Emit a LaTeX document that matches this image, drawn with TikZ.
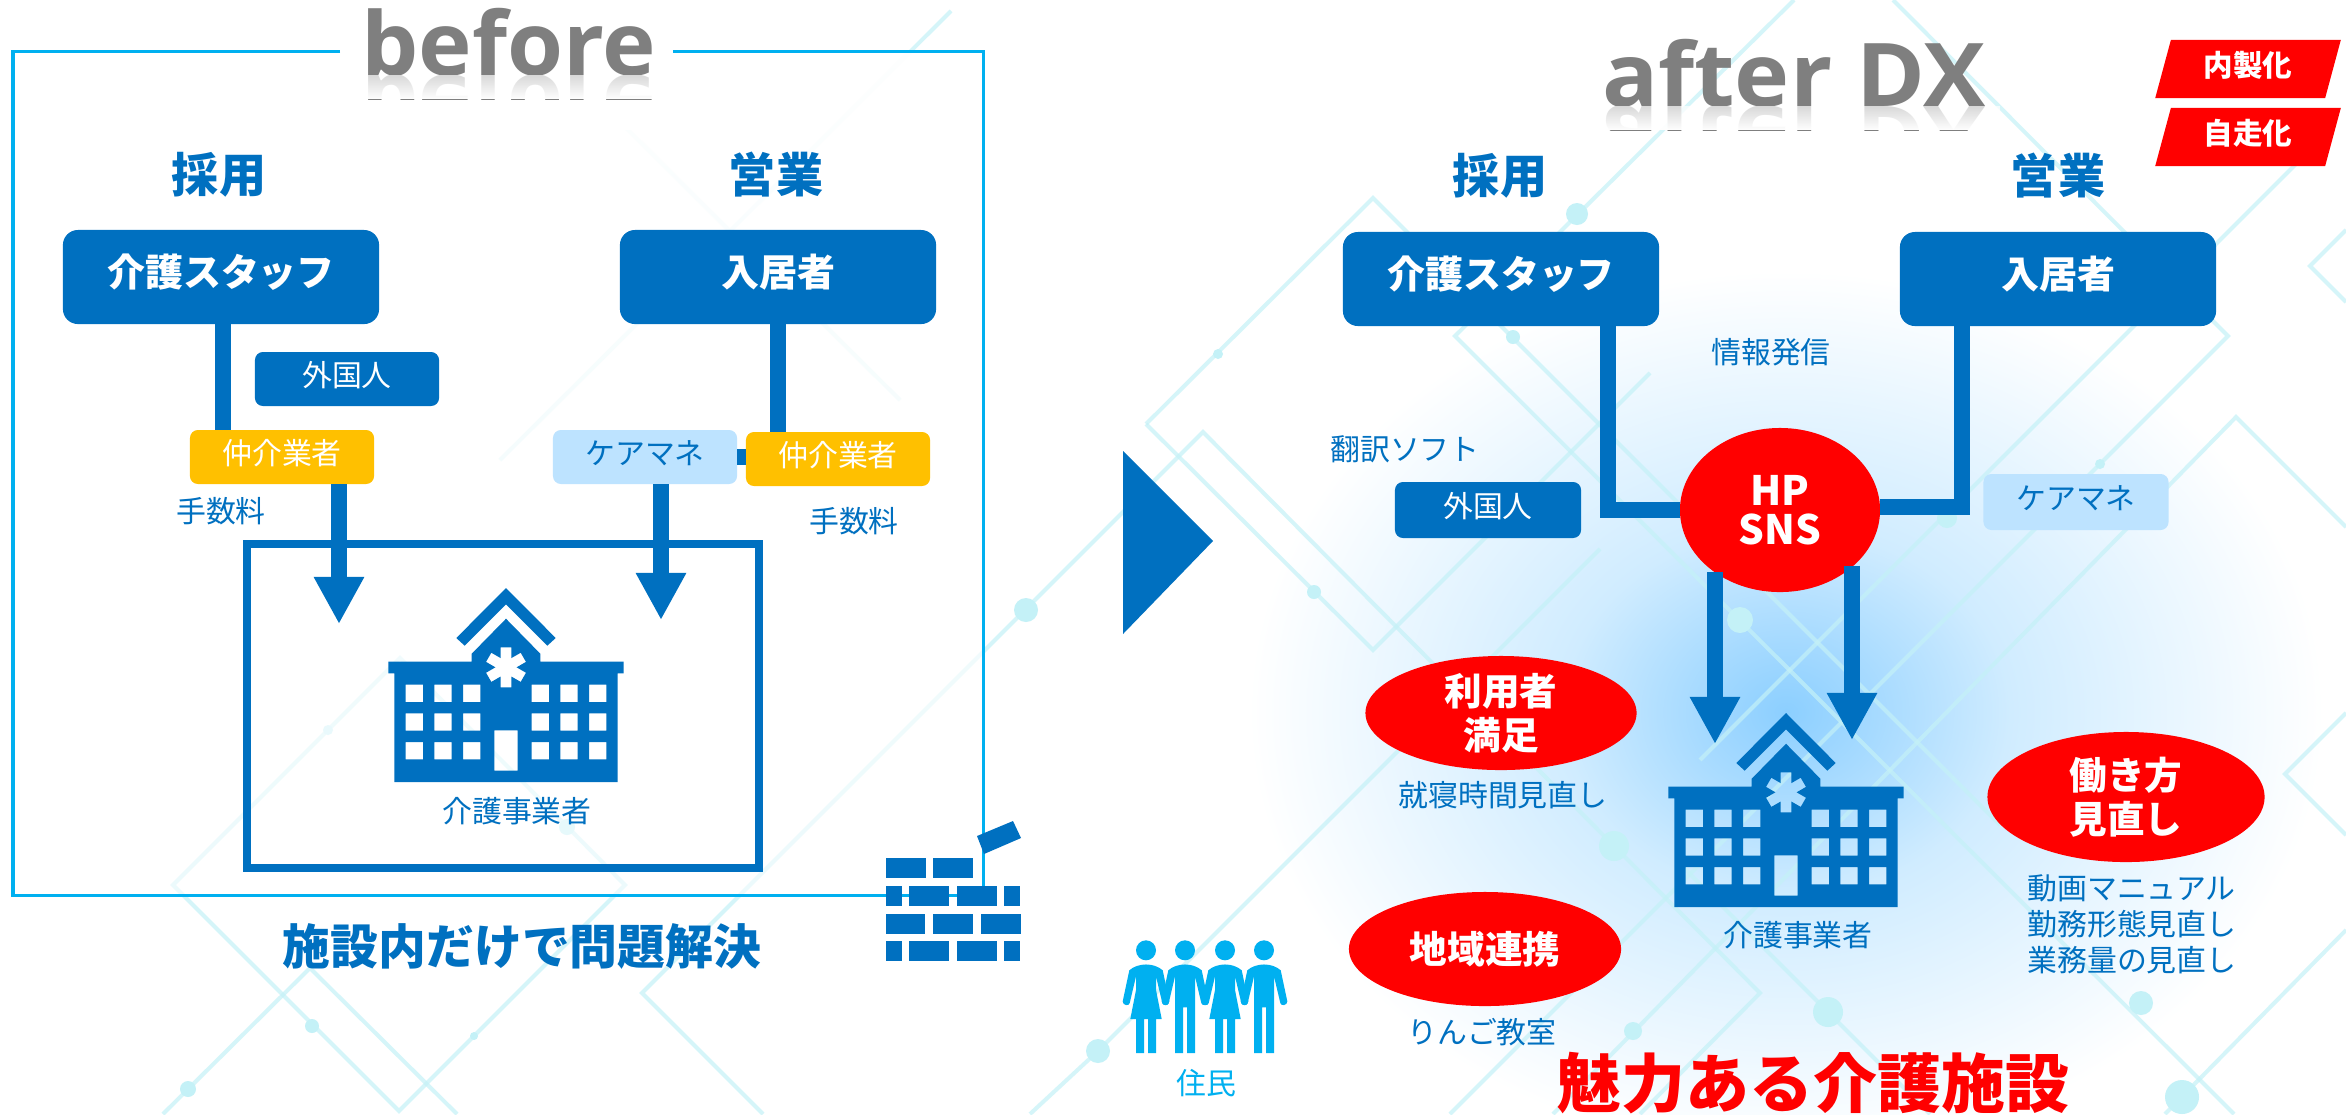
\documentclass[tikz,border=0pt]{standalone}
\usepackage{fontspec}
\usetikzlibrary{arrows.meta,shapes.geometric,fadings}
\newfontfamily\jp{Noto Sans CJK JP}
\setmainfont{Open Sans}

\definecolor{dxblue}{HTML}{0070C0}
\definecolor{skyline}{HTML}{00B0F0}
\definecolor{paleblue}{HTML}{BDE3FF}
\definecolor{amberbox}{HTML}{FFC000}
\definecolor{titlegray}{HTML}{7F7F7F}
\definecolor{netline}{HTML}{C4F1F7}
\definecolor{glowa}{HTML}{8CCFFF}
\definecolor{glowb}{HTML}{A6DAFF}
\definecolor{glowc}{HTML}{D0ECFF}

\pgfdeclareradialshading{glowshade}{\pgfpoint{0bp}{0bp}}{color(0bp)=(glowa); color(4bp)=(glowb); color(10bp)=(glowc); color(24bp)=(white); color(50bp)=(white)}
\tikzfading[name=veilfade, top color=transparent!4, bottom color=transparent!45]
\tikzfading[name=mirrorfade, top color=transparent!30, bottom color=transparent!0]

\tikzset{
    hospital/.pic={
        \fill[dxblue] (0,-194) -- (-49.7,-144) -- (-41.3,-136.3) -- (0,-177.7) -- (41.3,-136.3) -- (49.7,-144) -- cycle;
        \fill[dxblue, even odd rule] (0,-163.3) -- (-34.3,-128.3) -- (-34.3,-120.3) -- (-117.7,-120.3) -- (-117.7,-108.7)
            -- (-111.7,-108.7) -- (-111.7,0) -- (111.7,0) -- (111.7,-108.7) -- (117.7,-108.7) -- (117.7,-120.3)
            -- (34.3,-120.3) -- (34.3,-128.3) -- cycle
            ([shift={(0,-114.7)}]60:10.6)
            foreach \a in {90,150,...,390} {
                -- ([shift={(0,-114.7)}]\a-14.8:20.7) -- ([shift={(0,-114.7)}]\a+14.8:20.7) -- ([shift={(0,-114.7)}]\a+30:10.6)
            } -- cycle
            (-11.7,-51.7) rectangle (11.7,-11.3)
            foreach \wx in {-100.3,-71.7,-43,25.7,54.3,83} {
                foreach \wy in {-97.3,-68.7,-40} {
                    (\wx,\wy) rectangle (\wx+17.3,\wy+17.3)
                }
            };
    },
    woman/.pic={
        \fill[skyline] (0,-102.7) circle (10);
        \fill[skyline] (-16.7,-82.7) .. controls (-8,-90.5) and (8,-90.5) .. (16.7,-82.7) -- (23.3,-51.7)
            .. controls (23.5,-47.5) and (17,-46.5) .. (16.3,-50) -- (10,-76.7) -- (10,-63) -- (15.7,-34) -- (10,-34)
            -- (10,0) -- (2,0) -- (2,-34) -- (-2,-34) -- (-2,0) -- (-10,0) -- (-10,-34) -- (-15.7,-34) -- (-10,-63)
            -- (-10,-76.7) -- (-16.3,-50) .. controls (-17,-46.5) and (-23.5,-47.5) .. (-23.3,-51.7) -- cycle;
    },
    man/.pic={
        \fill[skyline] (0,-102.7) circle (10);
        \fill[skyline] (-16.7,-82.7) .. controls (-8,-90.5) and (8,-90.5) .. (16.7,-82.7) -- (23.3,-51.7)
            .. controls (23.5,-47.5) and (17,-46.5) .. (16.3,-50) -- (10,-76.7)
            -- (10,0) -- (2,0) -- (2,-45.7) -- (-2,-45.7) -- (-2,0) -- (-10,0)
            -- (-10,-76.7) -- (-16.3,-50) .. controls (-17,-46.5) and (-23.5,-47.5) .. (-23.3,-51.7) -- cycle;
    }
}

\begin{document}
\begin{tikzpicture}[
    x=0.01cm, y=-0.01cm,
    bigbox/.style={fill=dxblue, text=white, rounded corners=0.15cm, inner sep=0pt, outer sep=0pt, minimum width=3.16cm, minimum height=0.94cm, text depth=3.9pt, font=\jp\bfseries\fontsize{10.8pt}{13pt}\selectfont},
    smallbox/.style={rounded corners=0.08cm, inner sep=0pt, outer sep=0pt, minimum width=1.84cm, minimum height=0.54cm, text depth=2.7pt, font=\jp\fontsize{8.5pt}{10pt}\selectfont},
    foreignbox/.style={smallbox, fill=dxblue, text=white},
    brokerbox/.style={smallbox, fill=amberbox, text=white},
    carebox/.style={smallbox, fill=paleblue, text=dxblue},
    headtxt/.style={text=dxblue, inner sep=0pt, font=\jp\bfseries\fontsize{13.4pt}{16pt}\selectfont},
    smalltxt/.style={text=dxblue, inner sep=0pt, align=left, font=\jp\fontsize{8.5pt}{10.2pt}\selectfont},
    titletxt/.style={text=titlegray, inner sep=0pt, font=\bfseries\fontsize{25pt}{30pt}\selectfont},
    redoval/.style={ellipse, fill=red, text=white, inner sep=0pt, outer sep=0pt, align=center, font=\jp\bfseries\fontsize{10.7pt}{12.8pt}\selectfont},
    redflag/.style={trapezium, trapezium left angle=75.5, trapezium right angle=104.5, trapezium stretches=true, fill=red, text=white, inner sep=0pt, outer sep=0pt, minimum width=1.86cm, minimum height=0.58cm, text depth=2.7pt, font=\jp\bfseries\fontsize{8.4pt}{10pt}\selectfont},
    bar/.style={dxblue, line width=0.16cm},
    shaft/.style={bar, -{Triangle[length=0.47cm, width=0.47cm]}},
    netpath/.style={netline, line width=0.04cm, opacity=0.7}
]
% Page size
\useasboundingbox (0,0) rectangle (2346,1114);
\fill[white] (0,0) rectangle (2346,1114);

% Glow behind the facility
\shade[shading=glowshade] (1786,712) ellipse (560 and 460);

% Network pattern
\draw[netpath] (1146,424) -- (1373,198) -- (2000,825);
\draw[netpath] (1146,424) -- (1373,650) -- (1650,373);
\draw[netpath] (1794,0) -- (1455,336) -- (2234,1114);
\draw[netpath] (1893,0) -- (2228,336) -- (1450,1114);
\draw[netpath] (763,1114) -- (642,993) -- (1203,432) -- (1760,993) -- (1640,1114);
\draw[netpath] (2346,527) -- (2236,417) -- (1553,1114);
\draw[netpath] (2346,230) -- (2310,266) -- (2346,302);
\draw[netpath] (2300,160) -- (1700,760);
\draw[netpath] (2346,713) -- (2285,774) -- (2346,835);
\draw[netpath] (1680,864) -- (1930,1114);
\draw[netpath] (2346,930) -- (2165,1114);
\draw[netpath] (1030,1114) -- (1098,1051) -- (1600,549);
\draw[netpath] (173,885) -- (400,658) -- (625,885) -- (399,1111) -- cycle;
\draw[netpath] (163,1114) -- (310,968) -- (457,1114);
\draw[netpath] (951,11) -- (500,460);
\draw[netpath] (616,118) -- (900,400);
\foreach \nx/\ny/\nr in {1026/610/12,1314/592/7,1577/214/11,1513/337/7,1218/354/5,2100/464/5,1614/846/15,1740/620/13,1828/1012/15,1633/1031/9,2141/1003/12,2182/1097/17,1098/1051/12,328/730/5,567/827/8,312/1026/7,474/1036/4,188/1089/8,1947/518/10}
    \fill[netline] (\nx,\ny) circle (\nr);

% Before frame
\fill[white, path fading=veilfade] (13,51) rectangle (983,895);
\fill[white] (340,0) rectangle (673,130);
\draw[skyline, line width=0.03cm] (340,51) -- (13,51) -- (13,895) -- (983,895) -- (983,51) -- (673,51);

% Titles
\node[titletxt, anchor=base, xscale=1.03, transform shape] (before) at (509,75) {before};
\begin{scope}
\clip (350,75) rectangle (670,99);
\node[titletxt, anchor=base, xscale=1.03, yscale=-1, transform shape] (beforem) at (509,75) {before};
\end{scope}
\fill[white, path fading=mirrorfade] (350,75) rectangle (670,99);
\node[titletxt, anchor=base, xscale=1.06, transform shape] (after) at (1794,106) {after DX};
\begin{scope}
\clip (1590,106) rectangle (2000,130);
\node[titletxt, anchor=base, xscale=1.06, yscale=-1, transform shape] (afterm) at (1794,106) {after DX};
\end{scope}
\fill[white, path fading=mirrorfade] (1590,106) rectangle (2000,130);

% Before: boxes
\node[headtxt] (hireb) at (219,175) {採用};
\node[headtxt] (saleb) at (776,175) {営業};
\node[bigbox] (staffb) at (221,277) {介護スタッフ};
\node[bigbox] (residentb) at (778,277) {入居者};
\node[foreignbox] (foreignb) at (347,379) {外国人};
\node[brokerbox] (brokerl) at (282,457) {仲介業者};
\node[carebox] (careb) at (645,457) {ケアマネ};
\node[brokerbox] (brokerr) at (838,459) {仲介業者};
\node[smalltxt] (feel) at (221,511) {手数料};
\node[smalltxt] (feer) at (854,521) {手数料};
\coordinate (tipl) at (339,624);
\coordinate (tipr) at (661,620);

% Before: facility
\draw[dxblue, line width=0.08cm] (247,544) rectangle (759,868);
\pic at (506,782) {hospital};
\node[smalltxt] (facilityb) at (517,811) {介護事業者};
\node[headtxt, font=\jp\bfseries\fontsize{13.6pt}{16pt}\selectfont] (closed) at (522,946) {施設内だけで問題解決};

% Before: connections
\draw[bar] ([xshift=0.02cm]staffb.south) -- ([xshift=0.02cm]staffb.south |- brokerl.north);
\draw[bar] (residentb.south) -- (residentb.south |- brokerr.north);
\draw[bar] (careb.east) -- (careb.east -| brokerr.west);
\draw[shaft] (brokerl.south -| tipl) -- (tipl);
\draw[shaft] (careb.south -| tipr) -- (tipr);

% Brick wall
\foreach \xa/\xb/\ya in {886/926/858,933/973/858,
    886/902/886,909/949/886,957/997/886,1004/1020/886,
    886/925/914,933/973/914,981/1021/914,
    886/902/941,909/949/941,957/997/941,1004/1020/941}
    \fill[dxblue] (\xa,\ya) rectangle (\xb,\ya+20);
\fill[dxblue] (977,836) -- (1013,821) -- (1021,838) -- (984,854) -- cycle;

% Big arrow
\fill[dxblue] (1123,451) -- (1213,541) -- (1123,634) -- cycle;

% After: boxes
\node[headtxt] (hirea) at (1500,176) {採用};
\node[headtxt] (salea) at (2058,176) {営業};
\node[bigbox] (staffa) at (1501,279) {介護スタッフ};
\node[bigbox] (residenta) at (2058,279) {入居者};
\node[redflag] (inhouse) at (2248,69) {内製化};
\node[redflag] (selfrun) at (2248,137) {自走化};
\node[smalltxt] (publish) at (1771,352) {情報発信};
\node[smalltxt] (translate) at (1405,449) {翻訳ソフト};
\node[foreignbox, minimum width=1.86cm, minimum height=0.56cm] (foreigna) at (1488,510) {外国人};
\node[carebox, minimum width=1.85cm, minimum height=0.56cm] (carea) at (2076,502) {ケアマネ};

% After: hub and arrows
\node[redoval, minimum width=2cm, minimum height=1.64cm, font=\jp\bfseries\fontsize{11.5pt}{12.5pt}\selectfont] (sns) at (1780,510) {HP\\[-1.4pt]SNS};
\coordinate (tipa) at (1715,744);
\coordinate (tipb) at (1852,740);
\draw[bar, line width=0.16cm] ([xshift=1.07cm]staffa.south) |- (sns.west);
\draw[bar, line width=0.16cm] ([xshift=-0.96cm]residenta.south) |- ([yshift=0.03cm]sns.east);
\draw[shaft] (tipa |- sns.223.6) -- (tipa);
\draw[shaft] (tipb |- sns.-37.9) -- (tipb);

% After: facility
\pic at (1786,907) {hospital};
\node[smalltxt] (facilitya) at (1798,935) {介護事業者};

% After: results
\node[redoval, minimum width=2.71cm, minimum height=1.14cm] (satisfied) at (1501,713) {利用者\\[-0.4pt]満足};
\node[smalltxt] (bedtime) at (1503,795) {就寝時間見直し};
\node[redoval, minimum width=2.72cm, minimum height=1.14cm] (community) at (1485,949) {地域連携};
\node[smalltxt] (apple) at (1482,1032) {りんご教室};
\node[redoval, minimum width=2.77cm, minimum height=1.3cm] (workstyle) at (2126,797) {働き方\\[-0.4pt]見直し};
\node[smalltxt, minimum height=0pt] (worklist) at (2132,924) {動画マニュアル\\勤務形態見直し\\業務量の見直し};
\node[inner sep=0pt, text=red, font=\jp\bfseries\fontsize{18.2pt}{22pt}\selectfont] (appeal) at (1813,1083) {魅力ある介護施設};

% Residents
\pic at (1146,1053) {woman};
\pic at (1185,1053) {man};
\pic at (1225,1053) {woman};
\pic at (1264,1053) {man};
\node[smalltxt, text=skyline] (locals) at (1206,1083) {住民};

\end{tikzpicture}
\end{document}
